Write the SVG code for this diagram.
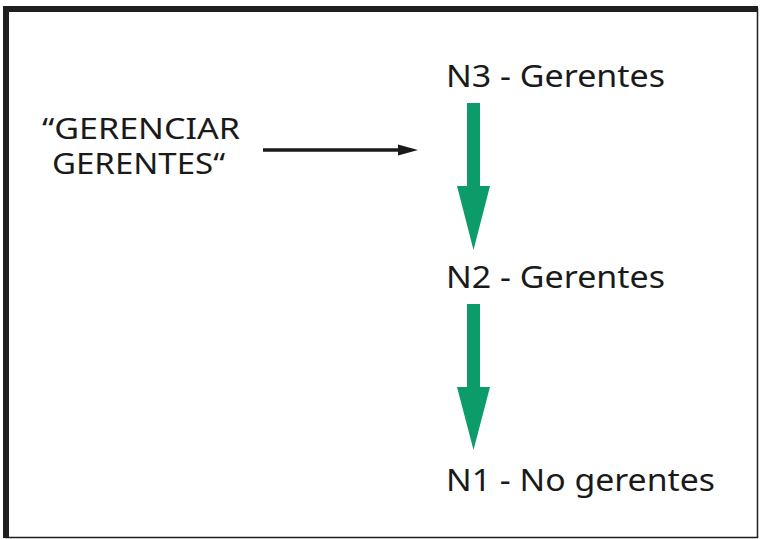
<svg xmlns="http://www.w3.org/2000/svg" width="761" height="539" viewBox="0 0 761 539">
<style>
text{font-family:"Noto Sans","Open Sans","Liberation Sans",sans-serif;font-size:31px;fill:#1a1a1a}
.q{font-size:29px}
.g{fill:#0c9c69}
</style>
<rect x="0" y="0" width="761" height="539" fill="#fff"/>
<path d="M6,537.5 V9 H757.5 V537.5 Z" fill="none" stroke="#1f1f1f" stroke-width="1.5"/>
<rect x="3" y="6" width="755" height="6" fill="#1f1f1f"/>
<rect x="3" y="6" width="6" height="532" fill="#1f1f1f"/>
<g id="gerenciar"><text class="q"><tspan x="42" y="139" textLength="198" lengthAdjust="spacingAndGlyphs">“GERENCIAR</tspan><tspan x="52" y="174" textLength="173" lengthAdjust="spacingAndGlyphs">GERENTES“</tspan></text></g>
<g id="n3"><text x="446" y="87" textLength="219" lengthAdjust="spacingAndGlyphs">N3 - Gerentes</text></g>
<g id="n2"><text x="446" y="288" textLength="219" lengthAdjust="spacingAndGlyphs">N2 - Gerentes</text></g>
<g id="n1"><text x="446" y="491" textLength="269" lengthAdjust="spacingAndGlyphs">N1 - No gerentes</text></g>
<g id="connectors">
<path d="M263,150 H400" stroke="#1a1a1a" stroke-width="3.5" fill="none"/>
<path d="M398,144.5 L418,150 L398,155.5 Z" fill="#1a1a1a"/>
<path class="g" d="M467,103 H480 V186 H490 L473.5,250 L457,186 H467 Z"/>
<path class="g" d="M467,304 H480 V387 H490 L473.5,450 L457,387 H467 Z"/>
</g>
</svg>
